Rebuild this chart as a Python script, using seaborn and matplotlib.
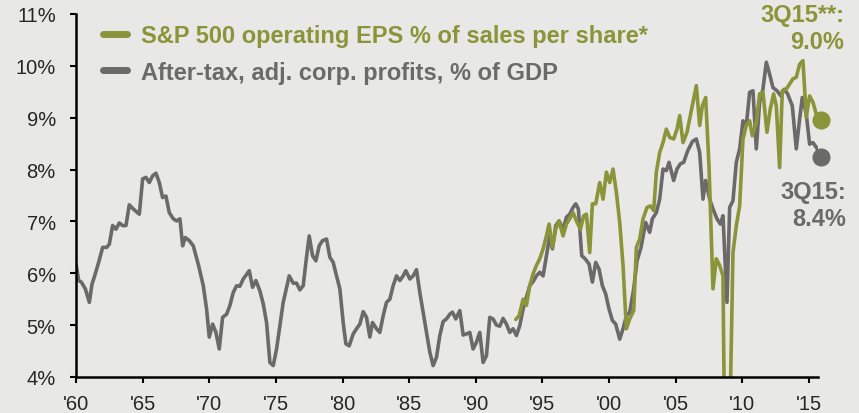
import matplotlib
matplotlib.use("Agg")
import matplotlib.pyplot as plt
import pandas as pd
import seaborn as sns

# After-tax adj. corporate profits, % of GDP
gdp_year = [
    1960.0, 1960.2, 1960.4, 1960.7, 1961.0, 1961.2, 1961.4, 1961.7, 1962.0, 1962.3,
    1962.5, 1962.75, 1963.0, 1963.25, 1963.5, 1963.75, 1964.0, 1964.3, 1964.75, 1965.0,
    1965.25, 1965.5, 1965.75, 1966.0, 1966.25, 1966.5, 1966.75, 1967.0, 1967.3, 1967.55,
    1967.8, 1968.0, 1968.2, 1968.5, 1968.8, 1969.2, 1969.55, 1969.8, 1970.0, 1970.25,
    1970.5, 1970.75, 1971.0, 1971.3, 1971.55, 1971.8, 1972.05, 1972.3, 1972.55, 1973.0,
    1973.25, 1973.5, 1973.8, 1974.05, 1974.3, 1974.55, 1974.8, 1975.05, 1975.55, 1976.0,
    1976.3, 1976.55, 1976.8, 1977.05, 1977.25, 1977.5, 1977.75, 1978.0, 1978.25, 1978.5,
    1978.8, 1979.05, 1979.3, 1979.55, 1979.8, 1980.05, 1980.25, 1980.5, 1980.8, 1981.05,
    1981.3, 1981.55, 1981.8, 1982.05, 1982.25, 1982.55, 1982.8, 1983.05, 1983.3, 1983.55,
    1983.8, 1984.05, 1984.3, 1984.55, 1984.75, 1985.05, 1985.3, 1985.55, 1985.8, 1986.05,
    1986.3, 1986.55, 1986.8, 1987.05, 1987.3, 1987.55, 1987.8, 1988.05, 1988.25, 1988.5,
    1988.8, 1989.05, 1989.3, 1989.55, 1989.8, 1990.05, 1990.3, 1990.55, 1990.8, 1991.05,
    1991.3, 1991.55, 1991.8, 1992.05, 1992.3, 1992.55, 1992.8, 1993.05, 1993.3, 1993.55,
    1993.8, 1994.05, 1994.3, 1994.55, 1994.8, 1995.05, 1995.3, 1995.55, 1995.75, 1996.0,
    1996.25, 1996.55, 1996.8, 1997.05, 1997.3, 1997.5, 1997.7, 1997.95, 1998.2, 1998.5,
    1998.75, 1999.0, 1999.25, 1999.5, 1999.75, 2000.0, 2000.25, 2000.5, 2000.8, 2001.05,
    2001.3, 2001.55, 2001.85, 2002.1, 2002.4, 2002.75, 2003.05, 2003.25, 2003.55, 2003.8,
    2004.05, 2004.3, 2004.5, 2004.85, 2005.1, 2005.35, 2005.6, 2005.9, 2006.25, 2006.55,
    2006.8, 2007.05, 2007.25, 2007.55, 2007.8, 2008.1, 2008.35, 2008.55, 2008.85, 2009.05,
    2009.3, 2009.55, 2009.8, 2010.05, 2010.3, 2010.55, 2010.8, 2011.05, 2011.3, 2011.55,
    2011.8, 2012.05, 2012.3, 2012.6, 2012.9, 2013.15, 2013.4, 2013.75, 2014.05, 2014.3,
    2014.5, 2014.8, 2015.05, 2015.3, 2015.55, 2015.9,
]
gdp_pct = [
    6.18, 5.86, 5.83, 5.70, 5.44, 5.79, 5.95, 6.21, 6.50, 6.50,
    6.56, 6.92, 6.85, 6.97, 6.92, 6.92, 7.32, 7.24, 7.14, 7.82,
    7.85, 7.75, 7.88, 7.93, 7.75, 7.46, 7.49, 7.17, 7.05, 7.01,
    7.05, 6.53, 6.69, 6.63, 6.53, 6.15, 5.76, 5.31, 4.77, 5.02,
    4.86, 4.54, 5.15, 5.21, 5.38, 5.63, 5.76, 5.75, 5.89, 6.05,
    5.73, 5.86, 5.66, 5.41, 5.05, 4.28, 4.22, 4.54, 5.44, 5.95,
    5.81, 5.81, 5.68, 5.76, 6.21, 6.72, 6.34, 6.24, 6.53, 6.63,
    6.66, 6.31, 6.21, 5.95, 5.70, 5.05, 4.64, 4.60, 4.83, 4.93,
    5.02, 5.26, 5.15, 4.77, 5.05, 4.93, 4.86, 5.18, 5.44, 5.50,
    5.76, 5.95, 5.86, 5.95, 6.05, 5.89, 5.95, 6.07, 5.63, 5.25,
    4.86, 4.48, 4.22, 4.38, 4.80, 5.07, 5.12, 5.21, 5.25, 5.12,
    5.28, 4.81, 4.83, 4.86, 4.54, 4.67, 4.86, 4.28, 4.41, 5.15,
    5.12, 5.00, 4.98, 5.13, 5.02, 4.86, 4.93, 4.80, 4.99, 5.31,
    5.54, 5.76, 5.84, 5.95, 6.02, 5.95, 6.34, 6.72, 6.47, 6.92,
    7.01, 6.85, 7.08, 7.14, 7.27, 7.34, 7.24, 6.34, 6.28, 6.18,
    5.83, 6.21, 6.08, 5.76, 5.60, 5.31, 5.09, 5.02, 4.73, 4.93,
    5.18, 5.25, 5.70, 6.24, 6.50, 6.98, 6.79, 7.05, 7.17, 7.43,
    8.01, 7.98, 8.14, 7.79, 8.01, 8.11, 8.14, 8.36, 8.54, 8.59,
    8.33, 7.43, 7.79, 7.43, 7.24, 7.05, 6.95, 7.11, 5.44, 7.27,
    7.40, 8.14, 8.40, 8.94, 8.85, 9.49, 9.52, 8.40, 9.30, 9.55,
    10.07, 9.84, 9.58, 9.52, 9.42, 9.55, 9.46, 9.23, 8.40, 8.97,
    9.39, 9.07, 8.49, 8.52, 8.43, 8.25,
]

# S&P 500 operating EPS % of sales per share
eps_year = [
    1993.0, 1993.25, 1993.55, 1993.8, 1994.05, 1994.3, 1994.55, 1994.8, 1995.05, 1995.3,
    1995.5, 1995.75, 1996.0, 1996.25, 1996.55, 1996.8, 1997.05, 1997.3, 1997.55, 1997.85,
    1998.1, 1998.3, 1998.55, 1998.75, 1999.0, 1999.3, 1999.55, 1999.8, 2000.05, 2000.3,
    2000.55, 2000.8, 2001.05, 2001.3, 2001.55, 2001.85, 2002.05, 2002.3, 2002.55, 2002.85,
    2003.1, 2003.35, 2003.55, 2003.8, 2004.05, 2004.3, 2004.55, 2004.85, 2005.1, 2005.3,
    2005.55, 2005.85, 2006.2, 2006.55, 2006.8, 2007.0, 2007.25, 2007.5, 2007.8, 2008.05,
    2008.3, 2008.55, 2008.8, 2009.3, 2009.55, 2009.8, 2010.05, 2010.3, 2010.55, 2010.75,
    2011.05, 2011.3, 2011.55, 2011.85, 2012.1, 2012.35, 2012.55, 2012.8, 2013.0, 2013.3,
    2013.55, 2013.8, 2014.05, 2014.3, 2014.55, 2014.8, 2015.05, 2015.3, 2015.55, 2015.9,
]
eps_pct = [
    5.11, 5.18, 5.50, 5.38, 5.76, 5.99, 6.15, 6.28, 6.47, 6.72,
    6.95, 6.50, 6.85, 7.01, 6.72, 6.95, 7.05, 7.17, 7.01, 6.85,
    7.11, 7.14, 6.40, 7.34, 7.34, 7.75, 7.43, 7.95, 7.75, 8.01,
    7.56, 6.98, 6.15, 4.93, 5.12, 5.28, 6.50, 6.66, 7.05, 7.27,
    7.30, 7.21, 7.95, 8.33, 8.52, 8.78, 8.62, 8.59, 8.78, 9.04,
    8.52, 8.72, 9.17, 9.62, 8.85, 9.23, 9.39, 8.07, 5.70, 6.28,
    6.15, 5.95, -0.5, 6.40, 6.92, 7.30, 8.59, 8.85, 8.94, 8.65,
    8.91, 9.46, 9.49, 8.72, 9.17, 9.46, 9.23, 8.04, 9.52, 9.55,
    9.65, 9.75, 9.78, 10.03, 10.10, 9.01, 9.42, 9.30, 9.07, 8.96,
]

y_ticks = [4, 5, 6, 7, 8, 9, 10, 11]
x_ticks = [1960, 1965, 1970, 1975, 1980, 1985, 1990, 1995, 2000, 2005, 2010, 2015]
x_labels = ["'60", "'65", "'70", "'75", "'80", "'85", "'90", "'95", "'00", "'05", "'10", "'15"]

eps_label = "S&P 500 operating EPS % of sales per share*"
gdp_label = "After-tax, adj. corp. profits, % of GDP"
eps_note = "3Q15**:\n9.0%"
gdp_note = "3Q15:\n8.4%"

BG = "#E8E8E6"
OLIVE = "#8A9438"
GREY = "#6A6A6A"

sns.set_style("ticks", {"axes.facecolor": BG, "figure.facecolor": BG})
plt.rcParams["font.family"] = ["Liberation Sans", "DejaVu Sans"]

gdp = pd.DataFrame({"year": gdp_year, "pct": gdp_pct})
eps = pd.DataFrame({"year": eps_year, "pct": eps_pct})

fig = plt.figure(figsize=(8.59, 4.14), dpi=100)
ax = fig.add_axes([76 / 859, 36 / 414, 742 / 859, 363 / 414])

sns.lineplot(data=gdp, x="year", y="pct", color=GREY, lw=2.6, ax=ax,
             label=gdp_label, estimator=None, sort=False)
sns.lineplot(data=eps, x="year", y="pct", color=OLIVE, lw=2.6, ax=ax,
             label=eps_label, estimator=None, sort=False)

# end-point dots
ax.plot(gdp_year[-1], gdp_pct[-1], "o", color=GREY, ms=12, clip_on=False, zorder=5)
ax.plot(eps_year[-1], eps_pct[-1], "o", color=OLIVE, ms=12, clip_on=False, zorder=5)

ax.set_xlim(1960, 2015.68)
ax.set_ylim(4, 11)
ax.set_yticks(y_ticks)
ax.set_yticklabels([f"{v}%" for v in y_ticks])
ax.set_xticks(x_ticks)
ax.set_xticklabels(x_labels)
ax.set_xlabel("")
ax.set_ylabel("")
ax.tick_params(axis="both", labelsize=14.5, length=4.5, width=1.5, color="black")
ax.tick_params(axis="y", pad=10)
ax.tick_params(axis="x", pad=8)
for s in ["top", "right"]:
    ax.spines[s].set_visible(False)
for s in ["left", "bottom"]:
    ax.spines[s].set_linewidth(1.8)
    ax.spines[s].set_color("black")

handles, labels = ax.get_legend_handles_labels()
leg = ax.legend(handles[::-1], labels[::-1], loc="upper left",
                bbox_to_anchor=(103 / 859, 1 - 25 / 414), bbox_transform=fig.transFigure,
                frameon=False, borderpad=0, borderaxespad=0, handlelength=1.02,
                handletextpad=0.6, labelspacing=0.58,
                prop={"weight": "bold", "size": 17})
for txt, c in zip(leg.get_texts(), [OLIVE, GREY]):
    txt.set_color(c)
for ln in leg.get_lines():
    ln.set_linewidth(5)

fig.text(844 / 859, 1 - 29 / 414, eps_note, ha="right", va="center", color=OLIVE,
         fontsize=17, fontweight="bold", linespacing=1.2)
fig.text(846 / 859, 1 - 206 / 414, gdp_note, ha="right", va="center", color=GREY,
         fontsize=17, fontweight="bold", linespacing=1.2)

fig.savefig("out.png", dpi=100, facecolor=BG)
